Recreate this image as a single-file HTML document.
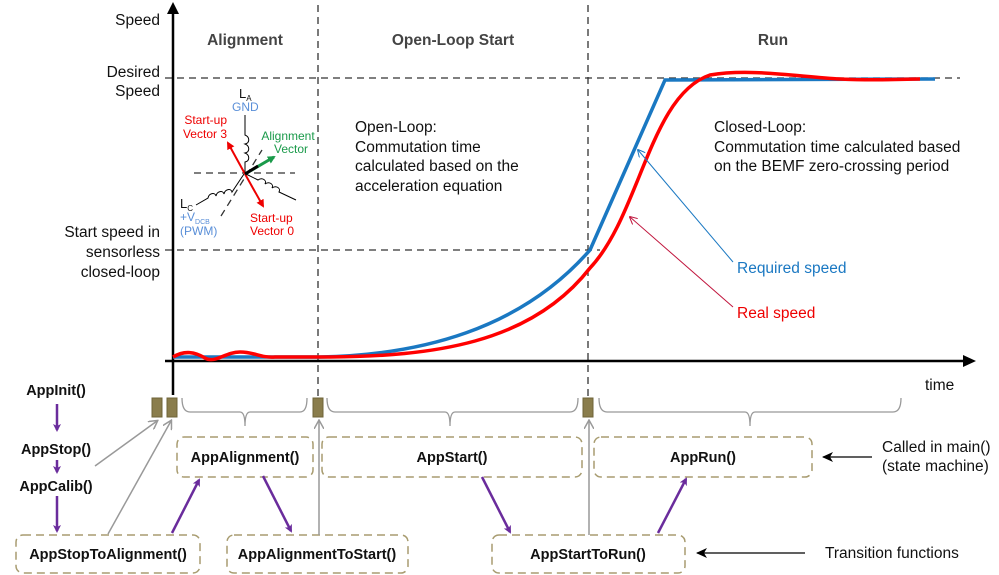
<!DOCTYPE html>
<html><head><meta charset="utf-8"><style>
html,body{margin:0;padding:0;background:#fff;}
svg{display:block;font-family:"Liberation Sans",Arial,sans-serif;}
.b{font-weight:bold;font-size:14.5px;fill:#111;text-anchor:middle;}
.t{font-size:15.5px;fill:#111;}
.h{font-weight:bold;font-size:15.5px;fill:#444;text-anchor:middle;}
.box{fill:none;stroke:#a89c70;stroke-width:1.5;stroke-dasharray:8,5;}
.dash{stroke:#333;stroke-width:1.3;stroke-dasharray:7,5;fill:none;}
.pur{stroke:#6a2c9c;stroke-width:2.5;fill:none;}
.gry{stroke:#999;stroke-width:1.5;fill:none;}
.brace{stroke:#999;stroke-width:1.3;fill:none;}
</style></head><body>
<svg width="999" height="575" viewBox="0 0 999 575">
<defs>
<marker id="ap" markerWidth="8" markerHeight="8" refX="6" refY="4" orient="auto" markerUnits="userSpaceOnUse"><path d="M0,0 L8,4 L0,8 L2,4z" fill="#6a2c9c"/></marker>
<marker id="ag" markerWidth="10" markerHeight="10" refX="8" refY="5" orient="auto" markerUnits="userSpaceOnUse"><path d="M0,0 L9,5 L0,10" fill="none" stroke="#999" stroke-width="1.5"/></marker>
<marker id="ak" markerWidth="12" markerHeight="10" refX="10" refY="5" orient="auto" markerUnits="userSpaceOnUse"><path d="M0,0 L11,5 L0,10 L3,5z" fill="#000"/></marker>
<marker id="ab" markerWidth="8" markerHeight="8" refX="7" refY="4" orient="auto" markerUnits="userSpaceOnUse"><path d="M0,0 L8,4 L0,8" fill="none" stroke="#1a78c2" stroke-width="1"/></marker>
<marker id="ar" markerWidth="8" markerHeight="8" refX="7" refY="4" orient="auto" markerUnits="userSpaceOnUse"><path d="M0,0 L8,4 L0,8" fill="none" stroke="#c0143c" stroke-width="1"/></marker>
<marker id="rr" markerWidth="8" markerHeight="8" refX="6" refY="4" orient="auto" markerUnits="userSpaceOnUse"><path d="M0,0 L8,4 L0,8z" fill="#e00"/></marker>
<marker id="gg" markerWidth="8" markerHeight="8" refX="6" refY="4" orient="auto" markerUnits="userSpaceOnUse"><path d="M0,0 L8,4 L0,8z" fill="#1a9a4a"/></marker>
</defs>

<line class="dash" x1="318" y1="5" x2="318" y2="398"/>
<line class="dash" x1="588" y1="5" x2="588" y2="398"/>
<line class="dash" x1="165" y1="78" x2="960" y2="78"/>
<line class="dash" x1="165" y1="250" x2="600" y2="250"/>

<line x1="173" y1="395" x2="173" y2="10" stroke="#000" stroke-width="2.5"/>
<path d="M167,14 L173,2 L179,14z" fill="#000"/>
<line x1="165" y1="361" x2="968" y2="361" stroke="#000" stroke-width="2.5"/>
<path d="M963,355 L976,361 L963,367z" fill="#000"/>

<text class="t" x="160" y="25" text-anchor="end">Speed</text>
<text class="t" x="160" y="77" text-anchor="end">Desired</text>
<text class="t" x="160" y="96" text-anchor="end">Speed</text>
<text class="t" x="160" y="237" text-anchor="end">Start speed in</text>
<text class="t" x="160" y="257" text-anchor="end">sensorless</text>
<text class="t" x="160" y="277" text-anchor="end">closed-loop</text>
<text class="h" x="245" y="45">Alignment</text>
<text class="h" x="453" y="45">Open-Loop Start</text>
<text class="h" x="773" y="45">Run</text>
<text class="t" x="355" y="132">Open-Loop:</text>
<text class="t" x="355" y="152">Commutation time</text>
<text class="t" x="355" y="171">calculated based on the</text>
<text class="t" x="355" y="191">acceleration equation</text>
<text class="t" x="714" y="132">Closed-Loop:</text>
<text class="t" x="714" y="152">Commutation time calculated based</text>
<text class="t" x="714" y="171">on the BEMF zero-crossing period</text>
<text class="t" x="925" y="390">time</text>

<path d="M173,357 L320,357 C420,355 520,330 590,250 L665,80 L935,79" fill="none" stroke="#1a78c2" stroke-width="3.5"/>
<path d="M173,357 C185,350 195,352 205,358 C215,364 225,352 240,352 C255,352 260,358 275,357 L330,357 C430,356 530,345 590,268 C640,215 650,95 710,75 C750,68 800,77 840,79 C880,81 900,79 920,79" fill="none" stroke="#f00" stroke-width="3.5"/>
<line x1="733" y1="262" x2="638" y2="150" stroke="#1a78c2" stroke-width="1" marker-end="url(#ab)"/>
<line x1="733" y1="307" x2="630" y2="217" stroke="#c0143c" stroke-width="1" marker-end="url(#ar)"/>
<text x="737" y="273" font-size="15.5" fill="#1a78c2">Required speed</text>
<text x="737" y="318" font-size="15.5" fill="#e00">Real speed</text>

<line class="dash" x1="194" y1="173" x2="295" y2="173" stroke-width="1"/>
<line class="dash" x1="221" y1="216" x2="262" y2="150" stroke-width="1"/>
<path d="M245,115 L245,135 c5,2 5,8 0,9 c5,2 5,8 0,9 c5,2 5,8 0,9 L245,172" fill="none" stroke="#000" stroke-width="1"/>
<path d="M196,205 L208,198 c1,-5 7,-6 8,-2 c1,-5 7,-6 8,-2 c1,-5 7,-6 8,-2 L244,174" fill="none" stroke="#000" stroke-width="1"/>
<path d="M246,174 L258,180 c4,-3 9,0 7,4 c4,-3 9,0 7,4 c4,-3 9,0 7,4 L296,200" fill="none" stroke="#000" stroke-width="1"/>
<line x1="245" y1="174" x2="263" y2="206" stroke="#e00" stroke-width="2" marker-end="url(#rr)"/>
<line x1="245" y1="174" x2="228" y2="143" stroke="#e00" stroke-width="2" marker-end="url(#rr)"/>
<line x1="245" y1="174" x2="274" y2="157" stroke="#1a9a4a" stroke-width="3" marker-end="url(#gg)"/>
<line x1="245" y1="174" x2="258" y2="166" stroke="#000" stroke-width="3"/>
<text x="239" y="98" font-size="13" fill="#111">L<tspan font-size="8" dy="3">A</tspan></text>
<text x="232" y="111" font-size="12" fill="#5a8fd8">GND</text>
<text x="227" y="124" font-size="12" fill="#e00" text-anchor="end">Start-up</text>
<text x="227" y="138" font-size="12" fill="#e00" text-anchor="end">Vector 3</text>
<text x="288" y="140" font-size="12" fill="#1a9a4a" text-anchor="middle">Alignment</text>
<text x="291" y="153" font-size="12" fill="#1a9a4a" text-anchor="middle">Vector</text>
<text x="180" y="208" font-size="13" fill="#111">L<tspan font-size="8" dy="3">C</tspan></text>
<text x="180" y="221" font-size="12" fill="#5a8fd8">+V<tspan font-size="7" dy="3">DCB</tspan></text>
<text x="180" y="235" font-size="12" fill="#5a8fd8">(PWM)</text>
<text x="250" y="222" font-size="12" fill="#e00">Start-up</text>
<text x="250" y="235" font-size="12" fill="#e00">Vector 0</text>

<rect x="152" y="398" width="10" height="19" fill="#8a7d4c" stroke="#6f6438"/>
<rect x="167" y="398" width="10" height="19" fill="#8a7d4c" stroke="#6f6438"/>
<rect x="313" y="398" width="10" height="19" fill="#8a7d4c" stroke="#6f6438"/>
<rect x="583" y="398" width="10" height="19" fill="#8a7d4c" stroke="#6f6438"/>

<path class="brace" d="M182,398 Q182,412 190,412 L240,412 Q245,412 245,426 Q245,412 250,412 L300,412 Q307,412 307,398"/>
<path class="brace" d="M327,398 Q327,412 335,412 L445,412 Q450,412 450,426 Q450,412 455,412 L570,412 Q578,412 578,398"/>
<path class="brace" d="M599,398 Q599,412 607,412 L745,412 Q750,412 750,426 Q750,412 755,412 L893,412 Q901,412 901,398"/>

<rect class="box" x="177" y="437" width="136" height="40" rx="7"/>
<rect class="box" x="322" y="437" width="260" height="40" rx="7"/>
<rect class="box" x="594" y="437" width="218" height="40" rx="7"/>
<rect class="box" x="16" y="535" width="184" height="38" rx="7"/>
<rect class="box" x="227" y="535" width="181" height="38" rx="7"/>
<rect class="box" x="492" y="535" width="193" height="38" rx="7"/>
<text class="b" x="245" y="462">AppAlignment()</text>
<text class="b" x="452" y="462">AppStart()</text>
<text class="b" x="703" y="462">AppRun()</text>
<text class="b" x="108" y="559">AppStopToAlignment()</text>
<text class="b" x="317" y="559">AppAlignmentToStart()</text>
<text class="b" x="588" y="559">AppStartToRun()</text>
<text class="b" x="56" y="395">AppInit()</text>
<text class="b" x="56" y="454">AppStop()</text>
<text class="b" x="56" y="491">AppCalib()</text>

<line class="pur" x1="57" y1="404" x2="57" y2="430" marker-end="url(#ap)"/>
<line class="pur" x1="57" y1="460" x2="57" y2="472" marker-end="url(#ap)"/>
<line class="pur" x1="57" y1="496" x2="57" y2="531" marker-end="url(#ap)"/>
<line class="pur" x1="172" y1="533" x2="199" y2="480" marker-end="url(#ap)"/>
<line class="pur" x1="263" y1="476" x2="291" y2="531" marker-end="url(#ap)"/>
<line class="pur" x1="482" y1="477" x2="510" y2="532" marker-end="url(#ap)"/>
<line class="pur" x1="658" y1="533" x2="686" y2="479" marker-end="url(#ap)"/>

<line class="gry" x1="95" y1="466" x2="157" y2="421" marker-end="url(#ag)"/>
<line class="gry" x1="108" y1="534" x2="171" y2="421" marker-end="url(#ag)"/>
<line class="gry" x1="319" y1="535" x2="319" y2="421" marker-end="url(#ag)"/>
<line class="gry" x1="589" y1="535" x2="589" y2="421" marker-end="url(#ag)"/>

<line x1="872" y1="457" x2="823" y2="457" stroke="#000" stroke-width="1.3" marker-end="url(#ak)"/>
<line x1="805" y1="553" x2="697" y2="553" stroke="#000" stroke-width="1.3" marker-end="url(#ak)"/>
<text class="t" x="882" y="452">Called in main()</text>
<text class="t" x="882" y="471">(state machine)</text>
<text class="t" x="825" y="558">Transition functions</text>
</svg>
</body></html>
